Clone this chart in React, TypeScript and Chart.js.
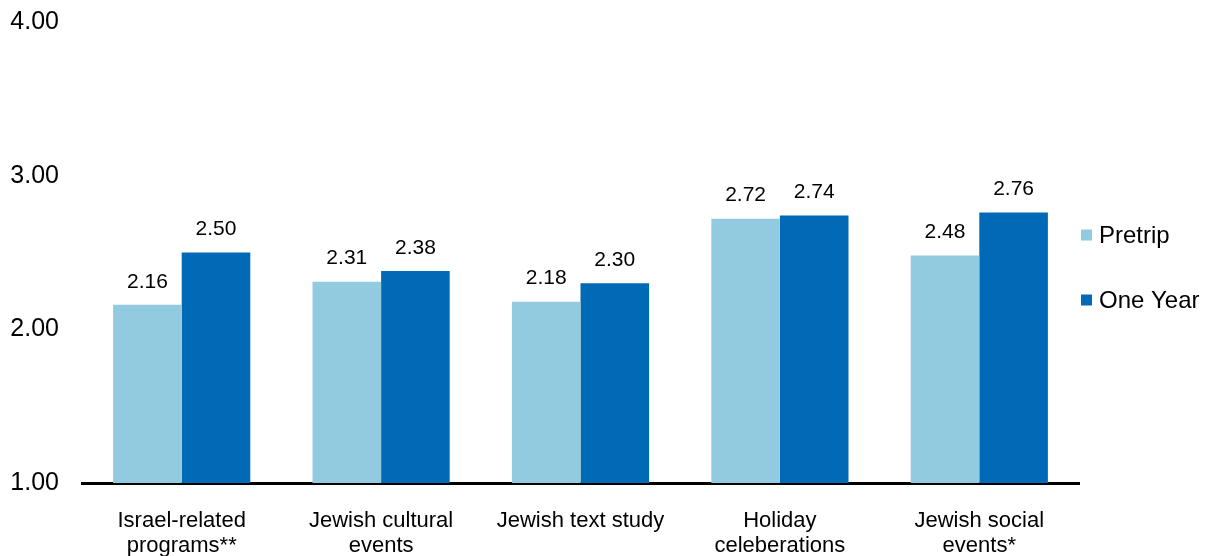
import React, { useEffect, useRef } from "react";
import { Chart, registerables } from "chart.js";

Chart.register(...registerables);

const categories: string[][] = [
  ["Israel-related", "programs**"],
  ["Jewish cultural", "events"],
  ["Jewish text study"],
  ["Holiday", "celeberations"],
  ["Jewish social", "events*"],
];
const seriesNames = ["Pretrip", "One Year"];
const pretrip = [2.16, 2.31, 2.18, 2.72, 2.48];
const oneYear = [2.5, 2.38, 2.3, 2.74, 2.76];
const yTicks = [1, 2, 3, 4];

const LIGHT = "#92CBE0";
const DARK = "#006AB6";
const FONT = "'Liberation Sans', Arial, sans-serif";

const valueLabels = {
  id: "valueLabels",
  afterDatasetsDraw(chart: any) {
    const ctx = chart.ctx;
    ctx.save();
    ctx.font = `21px ${FONT}`;
    ctx.fillStyle = "#000";
    ctx.textAlign = "center";
    ctx.textBaseline = "middle";
    chart.data.datasets.forEach((ds: any, i: number) => {
      const meta = chart.getDatasetMeta(i);
      meta.data.forEach((el: any, j: number) => {
        ctx.fillText(Number(ds.data[j]).toFixed(2), el.x, el.y - 23);
      });
    });
    ctx.restore();
  },
};

const sideLegend = {
  id: "sideLegend",
  afterDraw(chart: any) {
    const ctx = chart.ctx;
    const x = 1081;
    const ys = [235, 300];
    ctx.save();
    ctx.font = `24px ${FONT}`;
    ctx.textBaseline = "middle";
    ctx.textAlign = "left";
    chart.data.datasets.forEach((ds: any, i: number) => {
      const y = ys[i];
      ctx.fillStyle = ds.backgroundColor;
      ctx.fillRect(x, y - 5.5, 11, 11);
      ctx.fillStyle = "#000";
      ctx.fillText(ds.label, x + 18, y + 1);
    });
    ctx.restore();
  },
};

export default function App() {
  const ref = useRef<HTMLCanvasElement>(null);
  useEffect(() => {
    document.body.style.margin = "0";
    const chart = new Chart(ref.current!, {
      type: "bar",
      data: {
        labels: categories,
        datasets: [
          { label: seriesNames[0], data: pretrip, backgroundColor: LIGHT, categoryPercentage: 0.688, barPercentage: 1 },
          { label: seriesNames[1], data: oneYear, backgroundColor: DARK, categoryPercentage: 0.688, barPercentage: 1 },
        ],
      },
      options: {
        animation: false,
        responsive: false,
        maintainAspectRatio: false,
        layout: { padding: { left: 0, right: 131, top: 22, bottom: 0 } },
        plugins: {
          legend: { display: false },
          tooltip: { enabled: false },
        },
        scales: {
          x: {
            grid: { display: false, drawTicks: false },
            border: { display: true, color: "#000", width: 3 },
            afterFit(scale: any) {
              scale.height = 73;
            },
            ticks: {
              color: "#000",
              padding: 25,
              maxRotation: 0,
              autoSkip: false,
              font: { family: FONT, size: 22, lineHeight: 1.15 },
            },
          },
          y: {
            min: yTicks[0],
            max: yTicks[yTicks.length - 1],
            grid: { display: false, drawTicks: false },
            border: { display: false },
            afterFit(scale: any) {
              scale.width = 82;
              scale.paddingTop = 0;
              scale.paddingBottom = 0;
            },
            afterBuildTicks(scale: any) {
              scale.ticks = yTicks.map((v) => ({ value: v }));
            },
            ticks: {
              color: "#000",
              padding: 23,
              font: { family: FONT, size: 25 },
              callback: (v: any) => Number(v).toFixed(2),
            },
          },
        },
      },
      plugins: [valueLabels, sideLegend],
    });
    return () => chart.destroy();
  }, []);
  return (
    <div style={{ width: 1210, height: 556 }}>
      <canvas ref={ref} width={1210} height={556} style={{ display: "block" }} />
    </div>
  );
}
